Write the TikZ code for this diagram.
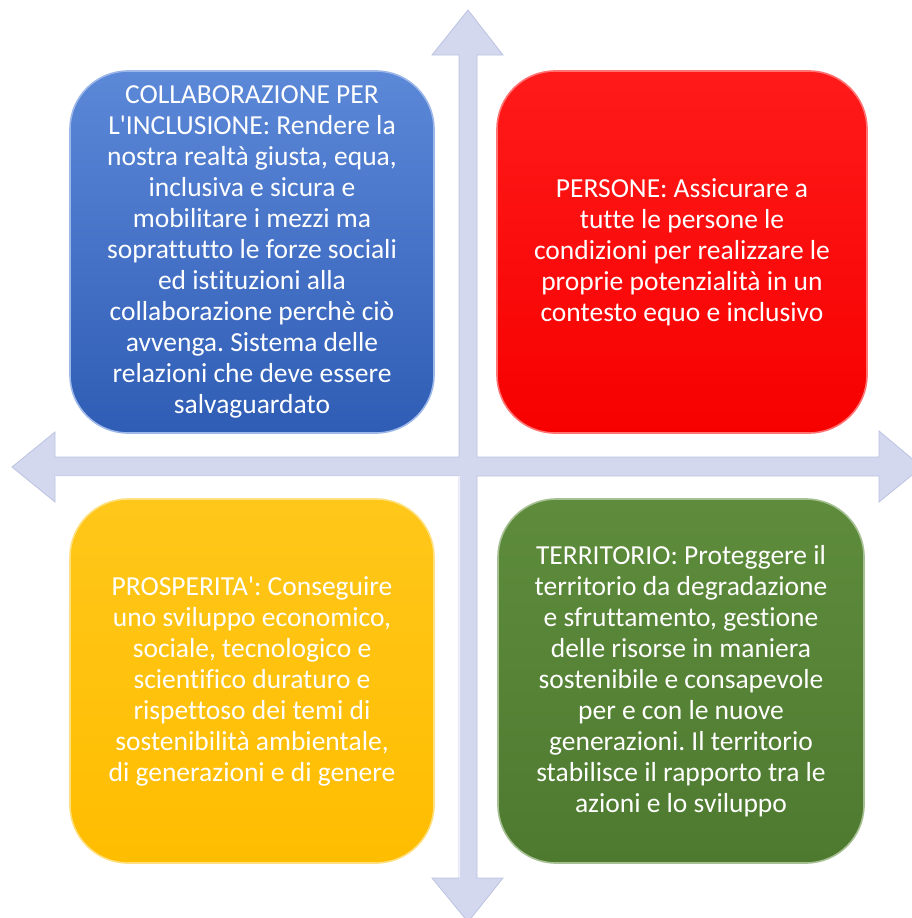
\documentclass[tikz,border=0pt]{standalone}
\usepackage{fontspec}
\setmainfont{Carlito}[Ligatures={NoCommon}]
\frenchspacing
\definecolor{bluetop}{HTML}{5C88D8}
\definecolor{bluebot}{HTML}{2F5DB5}
\definecolor{redtop}{HTML}{FF1A1A}
\definecolor{redbot}{HTML}{F70000}
\definecolor{yeltop}{HTML}{FFC71A}
\definecolor{yelbot}{HTML}{FFBD00}
\definecolor{grntop}{HTML}{5E8C3C}
\definecolor{grnbot}{HTML}{4E7A30}
\definecolor{arrowfill}{HTML}{D3D8EE}
\definecolor{arrowedge}{HTML}{BCC3E0}
\tikzset{
  quad/.style={rounded corners=58pt, inner sep=0pt, text=white,
    align=center, font=\fontsize{27.5}{31}\selectfont},
  rim/.style={line width=1.6pt},
}
\begin{document}
\begin{tikzpicture}[x=1pt,y=-1pt]
\useasboundingbox (0,0) rectangle (912,918);
% four-way arrow
\filldraw[fill=arrowfill, draw=arrowedge, line width=0.8pt, line join=miter]
  (468,10) -- (503,55) -- (477,55) -- (477,457) -- (879,457) -- (879,431)
  -- (922,467) -- (879,502) -- (879,476) -- (477,476) -- (477,878)
  -- (503,878) -- (468,922) -- (432,878) -- (459,878) -- (459,476)
  -- (55,476) -- (55,502) -- (12,467) -- (55,432) -- (55,457)
  -- (459,457) -- (459,55) -- (432,55) -- cycle;
\draw[white, line width=1pt, opacity=0.7] (459,476) -- (459,878);
\draw[white, line width=1pt, opacity=0.7] (55,476) -- (459,476);
% boxes
\node[quad, top color=bluetop, bottom color=bluebot, draw=bluetop!60!white, rim,
  minimum width=364pt, minimum height=362pt] (collab) at (252,252)
  {COLLABORAZIONE PER\\ L\textquotesingle INCLUSIONE: Rendere la\\ nostra realtà giusta, equa,\\ inclusiva e sicura e\\ mobilitare i mezzi ma\\ soprattutto le forze sociali\\ ed istituzioni alla\\ collaborazione perchè ciò\\ avvenga. Sistema delle\\ relazioni che deve essere\\ salvaguardato};
\node[quad, top color=redtop, bottom color=redbot, draw=red!55!white, rim,
  minimum width=370pt, minimum height=362pt] (persone) at (682,252)
  {PERSONE: Assicurare a\\ tutte le persone le\\ condizioni per realizzare le\\ proprie potenzialità in un\\ contesto equo e inclusivo};
\node[quad, top color=yeltop, bottom color=yelbot, draw=yeltop!55!white, rim,
  minimum width=364pt, minimum height=364pt] (prosp) at (252,681)
  {PROSPERITA\textquotesingle: Conseguire\\ uno sviluppo economico,\\ sociale, tecnologico e\\ scientifico duraturo e\\ rispettoso dei temi di\\ sostenibilità ambientale,\\ di generazioni e di genere};
\node[quad, top color=grntop, bottom color=grnbot, draw=grntop!55!white, rim,
  minimum width=366pt, minimum height=364pt] (terr) at (681,681)
  {TERRITORIO: Proteggere il\\ territorio da degradazione\\ e sfruttamento, gestione\\ delle risorse in maniera\\ sostenibile e consapevole\\ per e con le nuove\\ generazioni. Il territorio\\ stabilisce il rapporto tra le\\ azioni e lo sviluppo};
\end{tikzpicture}
\end{document}
